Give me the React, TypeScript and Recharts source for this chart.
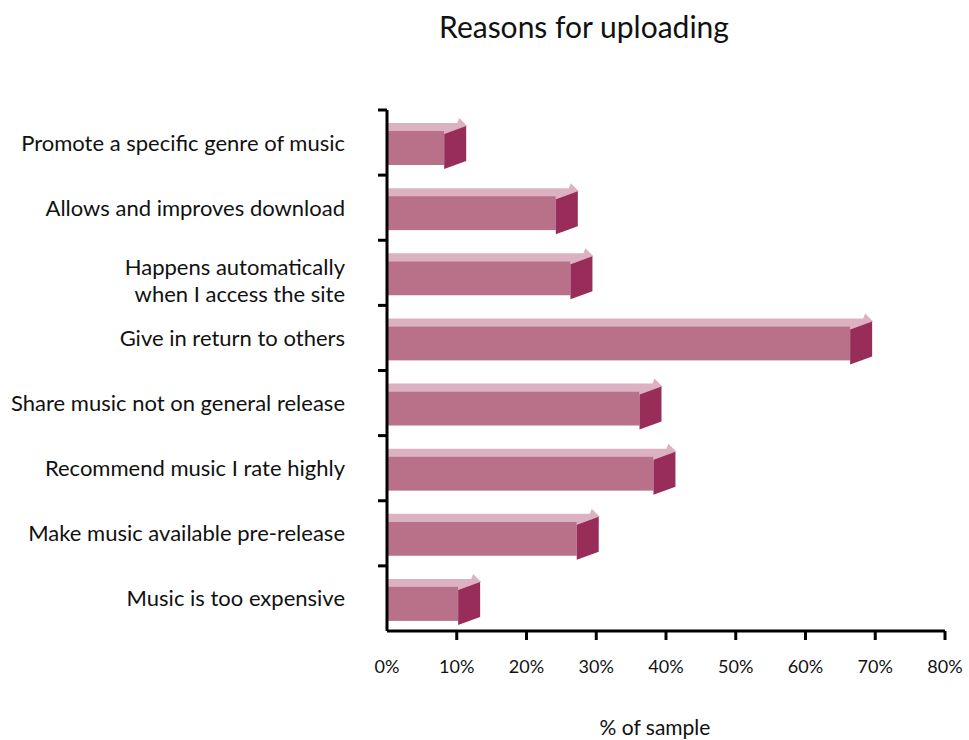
// Reasons for uploading — horizontal 3D-style bar chart (Recharts)

import { BarChart, Bar, XAxis, YAxis } from "recharts";

const REASONS = [
  "Promote a specific genre of music",
  "Allows and improves download",
  "Happens automatically\nwhen I access the site",
  "Give in return to others",
  "Share music not on general release",
  "Recommend music I rate highly",
  "Make music available pre-release",
  "Music is too expensive",
];

const SHARES = [8.2, 24.2, 26.3, 66.4, 36.2, 38.2, 27.2, 10.2];

const X_TICKS = [0, 10, 20, 30, 40, 50, 60, 70, 80];

const data = REASONS.map((reason, i) => ({ reason, share: SHARES[i] }));

const FONT = "Lato, 'Open Sans', sans-serif";
const FRONT = "#b87189";
const TOP = "#dcb2c2";
const SIDE = "#972d58";

const PLOT_TOP = 110;
const PLOT_BOTTOM = 631;
const AXIS_X = 387;
const BAND = (PLOT_BOTTOM - PLOT_TOP) / REASONS.length;

function Bar3D(props: any) {
  const { x, y, width, height } = props;
  const x0 = x;
  const x1 = x + width;
  const top = y + 5;
  const h = height;
  const topFace = [
    [x0, top],
    [x0, top - 8],
    [x1 + 13, top - 8],
    [x1 + 15, top - 13],
    [x1 + 23, top - 5],
    [x1, top + 3],
    [x1, top],
  ]
    .map((p) => p.join(","))
    .join(" ");
  const sideFace = [
    [x1, top + 3],
    [x1 + 22, top - 5],
    [x1 + 22, top + h - 4],
    [x1, top + h + 4],
  ]
    .map((p) => p.join(","))
    .join(" ");
  return (
    <g>
      <polygon points={topFace} fill={TOP} />
      <rect x={x0} y={top} width={width} height={h} fill={FRONT} />
      <polygon points={sideFace} fill={SIDE} />
    </g>
  );
}

function ReasonTick(props: any) {
  const { y, payload } = props;
  const lines = String(payload.value).split("\n");
  const bandTop = y - BAND / 2;
  return (
    <g>
      <line x1={AXIS_X - 9} y1={bandTop} x2={AXIS_X} y2={bandTop} stroke="#000" strokeWidth={3} />
      <text
        x={345}
        y={lines.length > 1 ? y - 4 : y + 2}
        textAnchor="end"
        dominantBaseline="middle"
        fontFamily={FONT}
        fontSize={22}
        fill="#111"
      >
        {lines.map((l, i) => (
          <tspan key={i} x={345} dy={i === 0 ? 0 : 27}>
            {l}
          </tspan>
        ))}
      </text>
    </g>
  );
}

function PercentTick(props: any) {
  const { x, payload } = props;
  return (
    <g>
      {payload.value !== 0 && (
        <line x1={x} y1={PLOT_BOTTOM} x2={x} y2={PLOT_BOTTOM + 9} stroke="#000" strokeWidth={3} />
      )}
      <text
        x={x}
        y={668}
        textAnchor="middle"
        dominantBaseline="middle"
        fontFamily={FONT}
        fontSize={18}
        fill="#111"
      >
        {payload.value}%
      </text>
    </g>
  );
}

export default function App() {
  return (
    <div style={{ position: "absolute", left: 0, top: 0, width: 969, height: 740, background: "#fff" }}>
      <div
        style={{
          position: "absolute",
          left: 0,
          width: 1168,
          top: 7,
          textAlign: "center",
          fontFamily: FONT,
          fontSize: 30,
          color: "#111",
          lineHeight: "38px",
        }}
      >
        Reasons for uploading
      </div>
      <div
        style={{
          position: "absolute",
          left: 555,
          width: 200,
          top: 714,
          textAlign: "center",
          fontFamily: FONT,
          fontSize: 21,
          color: "#111",
          lineHeight: "26px",
        }}
      >
        % of sample
      </div>
      <BarChart
        width={969}
        height={740}
        data={data}
        layout="vertical"
        margin={{ top: PLOT_TOP, right: 24, bottom: 49, left: 0 }}
        barCategoryGap={0}
      >
        <XAxis
          type="number"
          domain={[0, 80]}
          ticks={X_TICKS}
          height={60}
          axisLine={{ stroke: "#000", strokeWidth: 3 }}
          tickLine={false}
          tick={<PercentTick />}
          interval={0}
        />
        <YAxis
          type="category"
          dataKey="reason"
          width={AXIS_X}
          axisLine={{ stroke: "#000", strokeWidth: 3 }}
          tickLine={false}
          tick={<ReasonTick />}
          interval={0}
        />
        <Bar dataKey="share" barSize={34} shape={<Bar3D />} isAnimationActive={false} />
      </BarChart>
    </div>
  );
}
